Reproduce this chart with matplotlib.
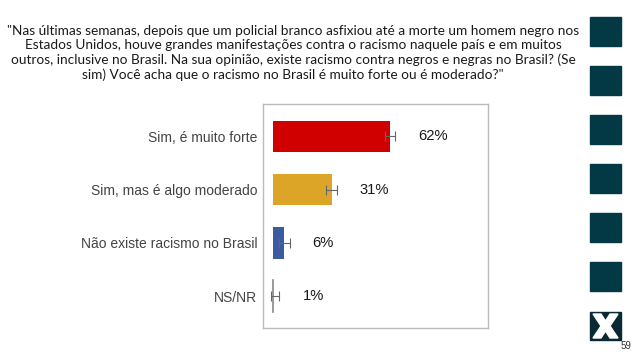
import matplotlib
matplotlib.use('Agg')
import matplotlib.pyplot as plt
from matplotlib.patches import Rectangle, Polygon

W, H = 638, 359

question = ('"Nas últimas semanas, depois que um policial branco asfixiou até a morte um homem negro nos\n'
            'Estados Unidos, houve grandes manifestações contra o racismo naquele país e em muitos\n'
            'outros, inclusive no Brasil. Na sua opinião, existe racismo contra negros e negras no Brasil? (Se\n'
            'sim) Você acha que o racismo no Brasil é muito forte ou é moderado?"')
categories = ['Sim, é muito forte', 'Sim, mas é algo moderado',
              'Não existe racismo no Brasil', 'NS/NR']
values = [62, 31, 6, 1]
errors = [2.8, 2.7, 2.9, 2.0]
labels = ['62%', '31%', '6%', '1%']
colors = ['#D00000', '#DDA528', '#3A5BA0', '#888888']
page_number = '59'

fig = plt.figure(figsize=(W / 100, H / 100), dpi=100)
fig.patch.set_facecolor('white')

# question text
fig.text(293 / W, 1 - 53 / H, question, ha='center', va='center',
         fontsize=9.8, family=['Lato', 'DejaVu Sans'], color='#1a1a1a',
         linespacing=1.22)

# chart
ax = fig.add_axes([263 / W, 1 - 328 / H, 225 / W, 224 / H])
y = list(range(len(categories)))
for i, (v, e, c) in enumerate(zip(values, errors, colors)):
    if categories[i] == 'NS/NR':
        ax.plot([0, 0], [i - 0.3, i + 0.3], color=c, lw=1.2)
    else:
        ax.barh(i, v, height=0.59, color=c)
    ax.errorbar(v, i, xerr=e, fmt='none', ecolor='#666666', elinewidth=0.8,
                capsize=3.5, capthick=0.8)
    ax.text(v + 15, i, labels[i], va='center', ha='left', fontsize=10.6,
            family='Liberation Sans', color='#1a1a1a')

ax.set_xlim(-5.3, 113.8)
ax.set_ylim(3.6, -0.61)
ax.set_xticks([])
ax.set_yticks(y)
ax.set_yticklabels(categories, fontsize=10, family='Liberation Sans', color='#444444')
ax.tick_params(axis='y', length=0, pad=4)
for s in ax.spines.values():
    s.set_color('#BBBBBB')
    s.set_linewidth(1.0)

# decorative squares on the right
sq_color = '#033845'
for top in [17, 66, 115, 164, 213, 262]:
    fig.patches.append(Rectangle((590 / W, 1 - (top + 29) / H), 31 / W, 29 / H,
                                 transform=fig.transFigure, color=sq_color))

# X icon
fig.patches.append(Rectangle((590 / W, 1 - 340 / H), 31 / W, 28 / H,
                             transform=fig.transFigure, color='#0a2a33'))
xs = [(593, 314), (601, 314), (605.5, 321), (610, 314), (618, 314), (610, 326),
      (618, 338), (610, 338), (605.5, 331), (601, 338), (593, 338), (601, 326)]
fig.patches.append(Polygon([(px / W, 1 - py / H) for px, py in xs], closed=True,
                           transform=fig.transFigure, color='white'))

fig.text(626 / W, 1 - 346 / H, page_number, ha='center', va='center',
         fontsize=7, family='Liberation Sans', color='#333333')

fig.savefig('out.png', dpi=100)
